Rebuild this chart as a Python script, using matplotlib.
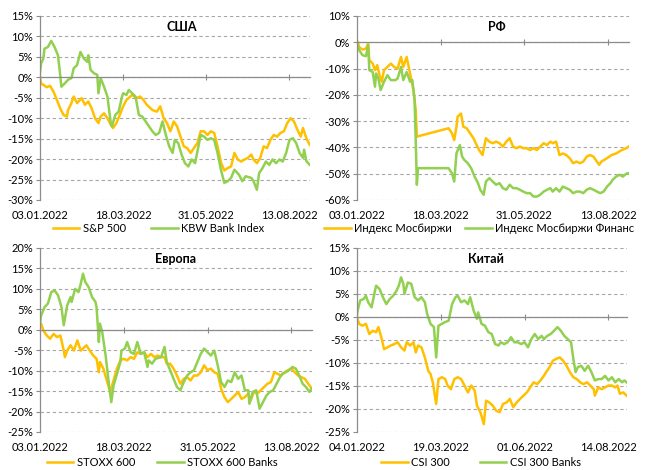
import pandas as pd
import matplotlib
matplotlib.use("Agg")
import matplotlib.pyplot as plt
from matplotlib.ticker import FuncFormatter, MultipleLocator

plt.rcParams["font.family"] = ["Lato", "DejaVu Sans"]

ORANGE = "#FFC000"
GREEN = "#92D050"
GRID = "#A6A6A6"
AXIS = "#8C8C8C"

# ---------------- США ----------------
usa_ticks = ["03.01.2022", "18.03.2022", "31.05.2022", "13.08.2022"]
usa_spx_days = [0, 1, 6, 9, 12, 15, 18, 21, 24, 25, 28, 30, 33, 37, 40, 43, 46, 49, 52, 54,
                57, 60, 63, 65, 68, 71, 74, 77, 82, 86, 89, 92, 95, 100, 104, 107, 110, 113,
                116, 119, 122, 125, 128, 131, 134, 137, 140, 143, 146, 149, 152, 155, 158,
                161, 164, 167, 170, 173, 176, 179, 182, 185, 188, 190, 193, 196, 199, 202,
                205, 208, 211, 214, 217, 220, 223, 226, 229, 232, 234, 237, 240]
usa_spx = [0.0, -1.5, -2.4, -2.1, -3.5, -5.5, -7.6, -9.2, -9.6, -8.0, -6.3, -4.7, -6.3, -5.1,
           -6.7, -5.9, -7.6, -10.0, -11.2, -9.6, -8.8, -10.0, -11.6, -12.4, -11.2, -9.2, -7.1,
           -5.5, -4.3, -5.1, -4.7, -5.5, -6.7, -8.0, -8.4, -7.1, -10.0, -11.2, -13.2, -10.8,
           -12.0, -14.5, -16.9, -17.3, -18.5, -17.3, -16.1, -13.2, -13.2, -14.1, -13.2, -13.6,
           -16.9, -20.8, -22.8, -22.2, -21.8, -18.5, -20.1, -20.6, -20.1, -19.7, -18.9, -20.1,
           -21.0, -19.7, -16.9, -17.3, -15.3, -14.1, -14.5, -13.6, -13.2, -11.2, -10.0, -10.8,
           -12.8, -14.5, -12.4, -14.9, -16.5]
usa_kbw_days = [0, 1, 3, 4, 7, 10, 13, 16, 18, 19, 22, 25, 28, 30, 33, 36, 39, 42, 43, 45, 48,
                51, 52, 54, 57, 60, 63, 64, 67, 70, 73, 74, 77, 79, 82, 85, 88, 91, 94, 97, 100,
                103, 106, 109, 112, 115, 118, 120, 123, 126, 129, 132, 135, 138, 143, 146, 149,
                152, 155, 158, 161, 164, 167, 170, 173, 177, 180, 183, 188, 190, 193, 195, 198,
                201, 204, 207, 210, 213, 216, 219, 222, 225, 228, 231, 234, 235, 237, 240]
usa_kbw = [1.0, 3.4, 4.6, 7.0, 7.4, 8.9, 7.4, 5.4, 0.6, -2.3, -1.5, -0.6, -0.2, 2.2, 3.0, 6.2,
           4.6, 3.8, 5.4, 1.8, 1.0, 0.6, -3.9, -0.2, -2.3, -4.7, -11.2, -12.0, -9.2, -8.4, -4.7,
           -3.9, -4.3, -3.1, -3.9, -4.7, -9.2, -9.6, -10.8, -12.0, -13.2, -14.1, -13.6, -10.8,
           -14.1, -16.9, -18.5, -15.3, -16.1, -18.9, -21.0, -21.8, -20.1, -21.0, -14.1, -14.5,
           -15.3, -14.9, -15.3, -18.5, -22.6, -25.8, -25.4, -24.6, -22.6, -23.8, -25.4, -24.2,
           -24.6, -25.4, -27.5, -23.4, -22.2, -20.6, -21.4, -20.1, -21.0, -20.1, -20.6, -18.5,
           -15.3, -14.9, -16.1, -18.5, -19.7, -17.7, -20.5, -21.4]

# ---------------- РФ ----------------
rf_ticks = ["03.01.2022", "18.03.2022", "31.05.2022", "13.08.2022"]
rf_moex_days = [0, 1, 2, 5, 8, 10, 11, 14, 16, 18, 20, 22, 24, 27, 30, 33, 36, 39, 41, 44, 47,
                50, 52, 53, 81, 84, 86, 88, 89, 92, 94, 97, 100, 103, 105, 108, 111, 114, 117,
                120, 123, 126, 129, 132, 135, 138, 141, 144, 147, 150, 153, 156, 159, 162, 165,
                168, 171, 173, 176, 179, 182, 185, 188, 191, 194, 197, 200, 203, 206, 209, 212,
                214, 216, 221, 225, 229, 234, 238, 240]
rf_moex = [0.5, 0.0, -1.8, -2.8, -2.4, -0.5, -6.8, -8.1, -10.6, -8.7, -12.5, -15.0, -10.6,
           -9.4, -8.1, -9.4, -10.0, -5.6, -9.4, -5.6, -11.9, -18.2, -25.8, -35.9, -32.7, -34.6,
           -37.2, -32.1, -28.3, -27.1, -32.1, -32.7, -34.6, -36.5, -38.4, -41.0, -42.9, -36.5,
           -37.8, -38.4, -37.8, -38.4, -39.7, -37.8, -36.5, -39.7, -40.3, -39.7, -40.3, -40.3,
           -41.0, -40.3, -41.0, -39.7, -38.4, -39.1, -37.8, -38.4, -37.8, -42.9, -42.3, -42.9,
           -44.1, -46.0, -45.4, -46.0, -45.4, -43.5, -42.9, -43.5, -45.4, -46.6, -45.4, -44.1,
           -42.9, -42.3, -41.0, -40.3, -39.7]
rf_fin_days = [0, 2, 5, 8, 10, 11, 14, 16, 17, 19, 21, 24, 27, 30, 34, 36, 39, 41, 44, 47, 49,
               51, 52, 53, 54, 81, 84, 86, 88, 91, 93, 95, 98, 101, 104, 107, 109, 112, 114,
               117, 120, 123, 126, 129, 132, 135, 138, 141, 144, 147, 150, 153, 156, 159, 162,
               165, 168, 171, 173, 176, 179, 182, 185, 188, 191, 194, 197, 200, 203, 206, 209,
               212, 215, 218, 221, 224, 226, 229, 232, 235, 238, 240]
rf_fin = [0.1, -3.0, -4.9, -5.3, -1.1, -10.6, -11.3, -16.9, -11.9, -13.8, -18.2, -15.0, -12.5,
          -14.4, -14.4, -13.8, -9.4, -14.4, -11.3, -15.0, -14.4, -22.0, -37.2, -54.2, -47.9,
          -47.9, -49.8, -53.0, -42.2, -39.1, -43.5, -44.8, -46.0, -47.9, -51.1, -53.6, -56.1,
          -58.0, -53.0, -51.7, -53.0, -54.2, -53.6, -55.5, -56.1, -54.2, -55.5, -55.5, -56.1,
          -56.8, -57.4, -57.4, -58.7, -58.7, -58.0, -56.8, -56.1, -55.5, -56.8, -55.5, -56.8,
          -54.9, -55.5, -56.1, -57.4, -56.8, -56.8, -57.4, -56.1, -55.5, -56.1, -56.8, -57.4,
          -56.8, -54.9, -53.6, -52.3, -51.1, -50.4, -51.1, -50.0, -49.8]

# ---------------- Европа ----------------
eu_ticks = ["03.01.2022", "18.03.2022", "31.05.2022", "13.08.2022"]
eu_stoxx_days = [0, 1, 3, 6, 9, 12, 15, 18, 21, 22, 24, 27, 30, 33, 36, 38, 41, 44, 47, 50, 52,
                 53, 56, 59, 62, 65, 68, 71, 74, 77, 80, 83, 86, 89, 92, 95, 98, 101, 104, 107,
                 110, 112, 115, 118, 121, 124, 127, 130, 133, 136, 139, 142, 145, 148, 151, 154,
                 157, 160, 163, 166, 169, 172, 175, 178, 181, 184, 186, 189, 192, 195, 198, 201,
                 204, 207, 210, 213, 216, 219, 222, 225, 228, 231, 234, 237, 240]
eu_stoxx = [1.1, 1.5, -0.2, -1.4, -2.2, -1.0, -1.8, -1.4, -5.1, -6.7, -5.1, -3.8, -5.1, -2.6,
            -5.1, -4.6, -3.8, -5.1, -6.3, -7.1, -10.4, -7.9, -9.5, -12.4, -15.2, -12.4, -9.5,
            -7.5, -7.1, -7.5, -6.7, -7.1, -5.5, -5.9, -5.5, -6.7, -5.9, -6.7, -6.3, -6.7, -6.7,
            -8.3, -8.3, -9.5, -11.2, -13.2, -12.0, -11.6, -12.4, -11.2, -11.2, -10.4, -8.7,
            -9.9, -9.5, -10.4, -10.8, -14.4, -16.5, -17.7, -16.9, -16.1, -15.2, -16.9, -16.5,
            -15.6, -17.3, -15.2, -15.6, -14.8, -14.0, -13.2, -12.8, -10.4, -10.8, -11.2, -10.4,
            -9.9, -9.5, -10.4, -11.2, -11.6, -12.0, -13.2, -14.4]
eu_banks_days = [0, 1, 4, 7, 10, 13, 16, 19, 21, 24, 27, 28, 31, 34, 36, 38, 40, 43, 46, 49, 50,
                 52, 53, 55, 58, 61, 63, 65, 68, 71, 72, 75, 77, 80, 83, 86, 89, 92, 95, 96, 99,
                 102, 107, 110, 112, 115, 118, 121, 124, 127, 130, 133, 136, 139, 142, 145, 148,
                 151, 154, 157, 160, 163, 166, 169, 172, 175, 178, 181, 184, 185, 188, 191, 194,
                 197, 200, 203, 206, 209, 212, 214, 217, 220, 223, 226, 229, 232, 235, 238, 240]
eu_banks = [1.5, 3.5, 5.5, 6.4, 9.2, 9.6, 8.4, 5.5, 1.1, 5.9, 8.0, 6.8, 10.0, 9.2, 11.2, 13.7,
            11.7, 10.4, 8.0, 6.8, 5.5, -3.0, 1.5, -0.6, -6.3, -13.6, -17.7, -13.6, -10.8, -7.9,
            -5.1, -4.6, -3.0, -5.5, -5.9, -3.0, -5.9, -5.5, -9.1, -7.5, -8.3, -7.1, -6.7, -4.2,
            -7.9, -9.9, -12.0, -14.0, -14.8, -12.8, -11.2, -10.4, -9.9, -7.9, -5.9, -4.6, -5.5,
            -6.3, -5.1, -8.7, -12.8, -14.0, -12.4, -12.8, -10.4, -12.0, -11.2, -14.8, -14.8,
            -18.1, -15.2, -14.8, -19.3, -17.7, -16.1, -15.2, -14.8, -13.2, -11.6, -10.8, -10.4,
            -9.9, -9.1, -9.5, -11.2, -13.2, -14.0, -15.2, -14.4]

# ---------------- Китай ----------------
cn_ticks = ["04.01.2022", "19.03.2022", "01.06.2022", "14.08.2022"]
cn_csi_days = [0, 2, 5, 8, 11, 14, 17, 19, 22, 24, 27, 30, 33, 36, 39, 42, 44, 47, 50, 52, 54,
               57, 60, 63, 65, 67, 70, 72, 75, 78, 80, 83, 86, 89, 92, 95, 98, 101, 104, 106,
               109, 112, 114, 117, 120, 123, 126, 129, 132, 135, 138, 141, 144, 147, 150, 153,
               156, 159, 162, 165, 167, 170, 173, 176, 179, 182, 185, 188, 191, 194, 197, 200,
               203, 206, 209, 210, 213, 216, 219, 222, 225, 228, 230, 232, 235, 238]
cn_csi = [0.0, -1.5, -1.9, -1.5, -3.7, -3.0, -3.3, -2.2, -4.8, -7.0, -6.6, -6.2, -5.9, -5.5,
          -6.6, -7.3, -5.5, -6.2, -5.5, -7.7, -6.2, -6.6, -8.8, -11.7, -12.4, -14.2, -18.9,
          -13.5, -13.1, -13.5, -14.9, -15.7, -13.5, -13.1, -13.5, -14.9, -16.4, -14.9, -16.0,
          -19.3, -20.7, -23.3, -18.2, -18.6, -19.3, -20.4, -20.7, -18.9, -18.6, -17.8, -19.6,
          -18.6, -17.8, -17.1, -16.4, -15.3, -14.2, -14.6, -13.8, -12.8, -12.0, -10.9, -9.5,
          -9.1, -8.8, -9.5, -10.6, -12.0, -13.1, -13.5, -14.2, -14.6, -14.2, -14.9, -15.7,
          -17.1, -15.3, -15.7, -15.3, -14.9, -14.9, -15.3, -14.9, -16.7, -16.4, -17.1]
cn_banks_days = [0, 1, 3, 6, 8, 10, 13, 16, 17, 20, 23, 26, 29, 32, 35, 37, 39, 41, 42, 45, 48,
                 51, 54, 57, 60, 62, 65, 68, 70, 72, 75, 77, 81, 84, 87, 89, 92, 95, 98, 100,
                 103, 106, 107, 110, 113, 116, 119, 122, 125, 127, 130, 133, 136, 139, 142, 145,
                 148, 151, 154, 157, 160, 163, 165, 168, 171, 174, 177, 180, 183, 186, 189, 191,
                 193, 195, 198, 201, 204, 207, 210, 213, 216, 219, 222, 225, 228, 231, 234, 236,
                 238]
cn_banks = [0.3, 1.7, 3.6, 3.9, 4.6, 3.2, 2.1, 5.7, 6.8, 6.1, 4.3, 2.8, 3.9, 4.6, 5.7, 6.8, 8.6,
            7.2, 5.0, 7.5, 7.2, 4.3, 3.6, 4.3, 3.2, 0.7, -1.5, -2.2, -8.8, -1.9, -1.5, -1.2,
            -0.8, 2.8, 4.3, 4.6, 3.2, 3.6, 2.8, 4.3, 1.4, -0.4, 1.0, -1.5, -1.9, -3.3, -3.7,
            -5.9, -6.2, -5.5, -5.9, -5.5, -4.4, -5.5, -5.5, -5.9, -5.5, -6.6, -4.8, -3.7, -4.8,
            -4.1, -4.8, -4.1, -3.7, -3.0, -2.2, -3.0, -4.1, -4.8, -5.5, -9.1, -12.0, -10.9,
            -10.6, -11.7, -10.6, -12.0, -13.8, -13.5, -13.5, -12.8, -13.8, -13.1, -14.2, -13.5,
            -14.2, -13.8, -14.2]


def draw(ax, title, title_x, ticks, series, ylim, step, legend_xy, colspace):
    start = pd.to_datetime(ticks[0], dayfirst=True)
    tick_pos = [(pd.to_datetime(t, dayfirst=True) - start).days for t in ticks]
    for days, vals, label, color in series:
        ax.plot(days, vals, color=color, lw=1.8, label=label, solid_joinstyle="round")
    last = max(s[0][-1] for s in series)
    ax.set_xlim(0, last)
    ax.set_ylim(*ylim)
    ax.yaxis.set_major_locator(MultipleLocator(step))
    ax.yaxis.set_major_formatter(FuncFormatter(lambda v, p: f"{v:.0f}%"))
    ax.grid(axis="y", color=GRID, ls=(0, (3, 2.5)), lw=0.8)
    ax.set_axisbelow(True)

    for side in ["top", "right"]:
        ax.spines[side].set_visible(False)
    ax.spines["left"].set_color(AXIS)
    ax.spines["left"].set_linewidth(0.9)
    ax.spines["bottom"].set_position(("data", 0))
    ax.spines["bottom"].set_color(AXIS)
    ax.spines["bottom"].set_linewidth(0.9)
    ax.set_xticks(tick_pos)
    ax.tick_params(axis="x", direction="inout", length=4, color=AXIS, labelbottom=False)
    ax.tick_params(axis="y", direction="out", length=3, color=AXIS, labelsize=8, pad=2)

    sec = ax.secondary_xaxis(0)
    sec.set_xticks(tick_pos)
    sec.set_xticklabels(ticks, fontsize=8)
    sec.tick_params(length=0, pad=7)
    sec.spines["bottom"].set_visible(False)

    ax.text(title_x, 0.94, title, transform=ax.transAxes, ha="center", va="center",
            fontsize=9, fontweight="bold")
    ax.legend(loc="center", bbox_to_anchor=legend_xy, ncol=2, frameon=False, fontsize=8,
              handlelength=2.4, handletextpad=0.3, columnspacing=colspace)


fig = plt.figure(figsize=(6.5, 4.7), dpi=100)
ax_usa = fig.add_axes([0.0615, 0.5745, 0.415, 0.3915])
ax_rf = fig.add_axes([0.549, 0.5745, 0.418, 0.3915])
ax_eu = fig.add_axes([0.0615, 0.0809, 0.418, 0.3915])
ax_cn = fig.add_axes([0.549, 0.0809, 0.415, 0.3915])

draw(ax_usa, "США", 0.526, usa_ticks,
     [(usa_spx_days, usa_spx, "S&P 500", ORANGE),
      (usa_kbw_days, usa_kbw, "KBW Bank Index", GREEN)],
     (-30, 15), 5, (0.44, -0.155), 2.3)
draw(ax_rf, "РФ", 0.515, rf_ticks,
     [(rf_moex_days, rf_moex, "Индекс Мосбиржи", ORANGE),
      (rf_fin_days, rf_fin, "Индекс Мосбиржи Финанс", GREEN)],
     (-60, 10), 10, (0.45, -0.155), 1.2)
draw(ax_eu, "Европа", 0.50, eu_ticks,
     [(eu_stoxx_days, eu_stoxx, "STOXX 600", ORANGE),
      (eu_banks_days, eu_banks, "STOXX 600 Banks", GREEN)],
     (-25, 20), 5, (0.45, -0.165), 2.0)
draw(ax_cn, "Китай", 0.48, cn_ticks,
     [(cn_csi_days, cn_csi, "CSI 300", ORANGE),
      (cn_banks_days, cn_banks, "CSI 300 Banks", GREEN)],
     (-25, 15), 5, (0.46, -0.165), 2.7)

fig.savefig("out.png", dpi=100, facecolor="white")
